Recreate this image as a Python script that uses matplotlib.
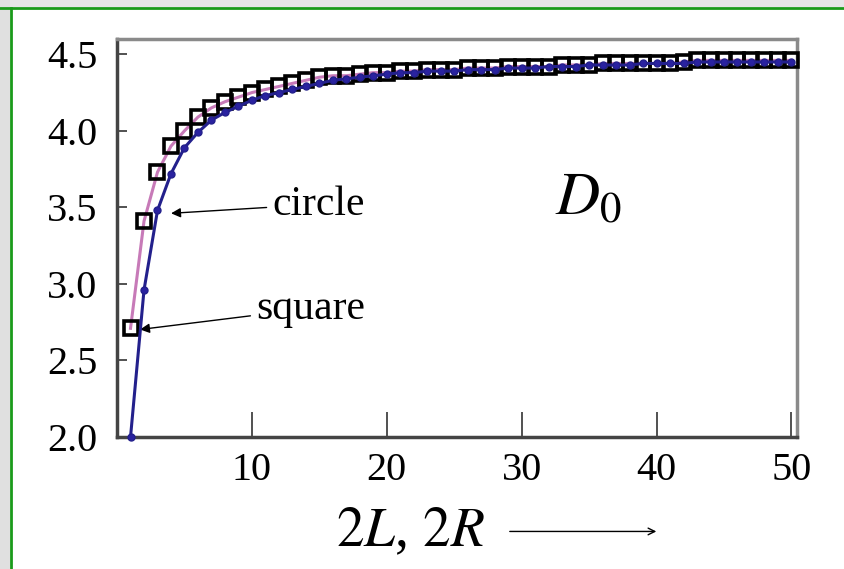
import matplotlib.pyplot as plt
from matplotlib.patches import Rectangle

# D0 versus 2L (square) and 2R (circle)
size = list(range(1, 51))

square = [2.71, 3.41, 3.73, 3.90, 4.00, 4.09, 4.15, 4.19, 4.22, 4.25,
          4.27, 4.29, 4.31, 4.33, 4.35, 4.36, 4.36, 4.37, 4.38, 4.38,
          4.39, 4.39, 4.40, 4.40, 4.40, 4.41, 4.41, 4.41, 4.42, 4.42,
          4.42, 4.42, 4.43, 4.43, 4.43, 4.44, 4.44, 4.44, 4.44, 4.44,
          4.44, 4.45, 4.46, 4.46, 4.46, 4.46, 4.46, 4.46, 4.46, 4.46]

circle = [2.00, 2.96, 3.48, 3.72, 3.89, 3.99, 4.07, 4.12, 4.16, 4.20,
          4.23, 4.25, 4.27, 4.29, 4.31, 4.33, 4.34, 4.35, 4.36, 4.37,
          4.38, 4.38, 4.39, 4.39, 4.39, 4.40, 4.40, 4.40, 4.41, 4.41,
          4.41, 4.42, 4.42, 4.42, 4.43, 4.43, 4.43, 4.43, 4.44, 4.44,
          4.44, 4.44, 4.45, 4.45, 4.45, 4.45, 4.45, 4.45, 4.45, 4.45]

xticks = [10, 20, 30, 40, 50]
yticks = [2.0, 2.5, 3.0, 3.5, 4.0, 4.5]

plt.rcParams['font.family'] = ['Liberation Serif', 'DejaVu Serif']
plt.rcParams['mathtext.fontset'] = 'stix'

fig = plt.figure(figsize=(8.45, 5.69), dpi=100)

# slide frame: grey strips with a green edge on top and left
fig.patches.append(Rectangle((0, 0.987), 1, 0.013, transform=fig.transFigure,
                             facecolor='#e6e6e6', edgecolor='none', zorder=0))
fig.patches.append(Rectangle((0, 0), 0.012, 1, transform=fig.transFigure,
                             facecolor='#e0e0e0', edgecolor='none', zorder=0))
fig.add_artist(plt.Line2D([0, 1], [0.986, 0.986], transform=fig.transFigure,
                          color='#1a9a1a', lw=2))
fig.add_artist(plt.Line2D([0.0125, 0.0125], [0, 0.986], transform=fig.transFigure,
                          color='#1a9a1a', lw=2))

ax = fig.add_axes([0.1385, 0.232, 0.8045, 0.6995])

ax.plot(size, square, color='#c77ab8', lw=2.2, marker='s', ms=10,
        mfc='none', mec='black', mew=2.6, clip_on=False, zorder=3)
ax.plot(size, circle, color='#23208c', lw=2.2, marker='o', ms=5,
        mfc='#2a22a0', mec='#23208c', clip_on=False, zorder=4)

ax.set_xlim(0, 50.4)
ax.set_ylim(2.0, 4.60)
ax.set_xticks(xticks)
ax.set_yticks(yticks)
ax.set_yticklabels([f'{v:.1f}' for v in yticks])

ax.tick_params(axis='x', direction='in', length=18, width=1.2, pad=11,
               labelsize=29, color='#333333')
ax.tick_params(axis='y', direction='in', length=7, width=1.2, pad=14,
               labelsize=29, color='#333333')

for side in ['left', 'bottom']:
    ax.spines[side].set_color('#444444')
    ax.spines[side].set_linewidth(2.5)
for side in ['top', 'right']:
    ax.spines[side].set_color('#8a8a8a')
    ax.spines[side].set_linewidth(2.5)

arrow = dict(arrowstyle='-|>', color='black', lw=1, mutation_scale=14)
ax.annotate('circle', xy=(3.8, 3.46), xytext=(11.5, 3.52),
            fontsize=30, va='center', ha='left', arrowprops=arrow)
ax.annotate('square', xy=(1.5, 2.70), xytext=(10.3, 2.84),
            fontsize=30, va='center', ha='left', arrowprops=arrow)

ax.text(32.5, 3.55, r'$D_0$', fontsize=44, ha='left', va='center')

fig.text(0.486, 0.064, r'$2L$, $2R$', fontsize=40, ha='center', va='center')
ax.annotate('', xy=(0.78, 0.066), xytext=(0.60, 0.066), xycoords='figure fraction',
            textcoords='figure fraction',
            arrowprops=dict(arrowstyle='->', color='black', lw=1, mutation_scale=12))

fig.savefig('out.png', dpi=100, facecolor='white')
